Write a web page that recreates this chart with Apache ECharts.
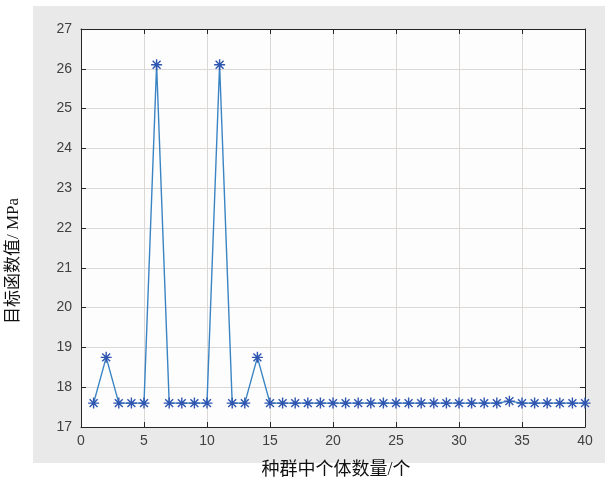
<!DOCTYPE html>
<html><head><meta charset="utf-8">
<script src="https://cdn.jsdelivr.net/npm/echarts@6/dist/echarts.min.js"></script>
<style>html,body{margin:0;padding:0;background:#fff}#c{width:610px;height:483px}</style>
</head><body><div id="c"></div>
<script>
const populationSizes = [1,2,3,4,5,6,7,8,9,10,11,12,13,14,15,16,17,18,19,20,21,22,23,24,25,26,27,28,29,30,31,32,33,34,35,36,37,38,39,40];
const objectiveValues = [17.6,18.75,17.6,17.6,17.6,26.1,17.6,17.6,17.6,17.6,26.1,17.6,17.6,18.75,17.6,17.6,17.6,17.6,17.6,17.6,17.6,17.6,17.6,17.6,17.6,17.6,17.6,17.6,17.6,17.6,17.6,17.6,17.6,17.65,17.6,17.6,17.6,17.6,17.6,17.6];
const xAxisName = '种群中个体数量/个';
const yAxisName = '目标函数值/ MPa';

const chart = echarts.init(document.getElementById('c'), null, {renderer:'canvas'});
const labelStyle = {color:'#404040', fontSize:14, fontFamily:'Liberation Sans, Arial, sans-serif'};
const axisLineStyle = {color:'#262626', width:1};
const splitStyle = {show:true, lineStyle:{color:'#dcd8d6', width:1}};
const asterisk = 'path://M0,-5L0,5M-5,0L5,0M-3.6,-3.6L3.6,3.6M-3.6,3.6L3.6,-3.6';
chart.setOption({
  animation:false,
  graphic:[{type:'rect', z:-100, silent:true, shape:{x:33,y:6,width:572,height:457}, style:{fill:'#e9e9e9'}}],
  grid:{left:81, right:25, top:29, bottom:56, show:true, backgroundColor:'#fdfdfd', borderWidth:0, containLabel:false, outerBoundsMode:'none'},
  xAxis:[{
    type:'value', min:0, max:40, interval:5, position:'bottom',
    name:xAxisName, nameLocation:'middle', nameGap:34,
    nameTextStyle:{color:'#111', fontSize:18, fontFamily:'Liberation Serif, Noto Sans CJK SC, serif', padding:[0,0,0,6]},
    axisLine:{show:true, lineStyle:axisLineStyle},
    axisTick:{show:true, inside:true, length:5, lineStyle:axisLineStyle},
    axisLabel:Object.assign({margin:7}, labelStyle),
    splitLine:splitStyle
  },{
    type:'value', min:0, max:40, interval:5, position:'top',
    axisLine:{show:true, onZero:false, lineStyle:axisLineStyle},
    axisTick:{show:true, inside:true, length:5, lineStyle:axisLineStyle},
    axisLabel:{show:false}, splitLine:{show:false}
  }],
  yAxis:[{
    type:'value', min:17, max:27, interval:1, position:'left',
    name:yAxisName, nameLocation:'middle', nameGap:59, nameRotate:90,
    nameTextStyle:{color:'#111', fontSize:17, fontFamily:'Liberation Serif, Noto Sans CJK SC, serif', padding:[0,66,0,0]},
    axisLine:{show:true, lineStyle:axisLineStyle},
    axisTick:{show:true, inside:true, length:5, lineStyle:axisLineStyle},
    axisLabel:Object.assign({margin:9}, labelStyle),
    splitLine:splitStyle
  },{
    type:'value', min:17, max:27, interval:1, position:'right',
    axisLine:{show:true, onZero:false, lineStyle:axisLineStyle},
    axisTick:{show:true, inside:true, length:5, lineStyle:axisLineStyle},
    axisLabel:{show:false}, splitLine:{show:false}
  }],
  series:[{
    type:'line',
    data:populationSizes.map((x,i)=>[x, objectiveValues[i]]),
    lineStyle:{color:'#3b84c4', width:1.4},
    symbol:asterisk, symbolSize:11, symbolKeepAspect:true,
    itemStyle:{color:'#2e55b0', borderColor:'#2e55b0', borderWidth:1.4},
    z:5
  }]
});
</script></body></html>
